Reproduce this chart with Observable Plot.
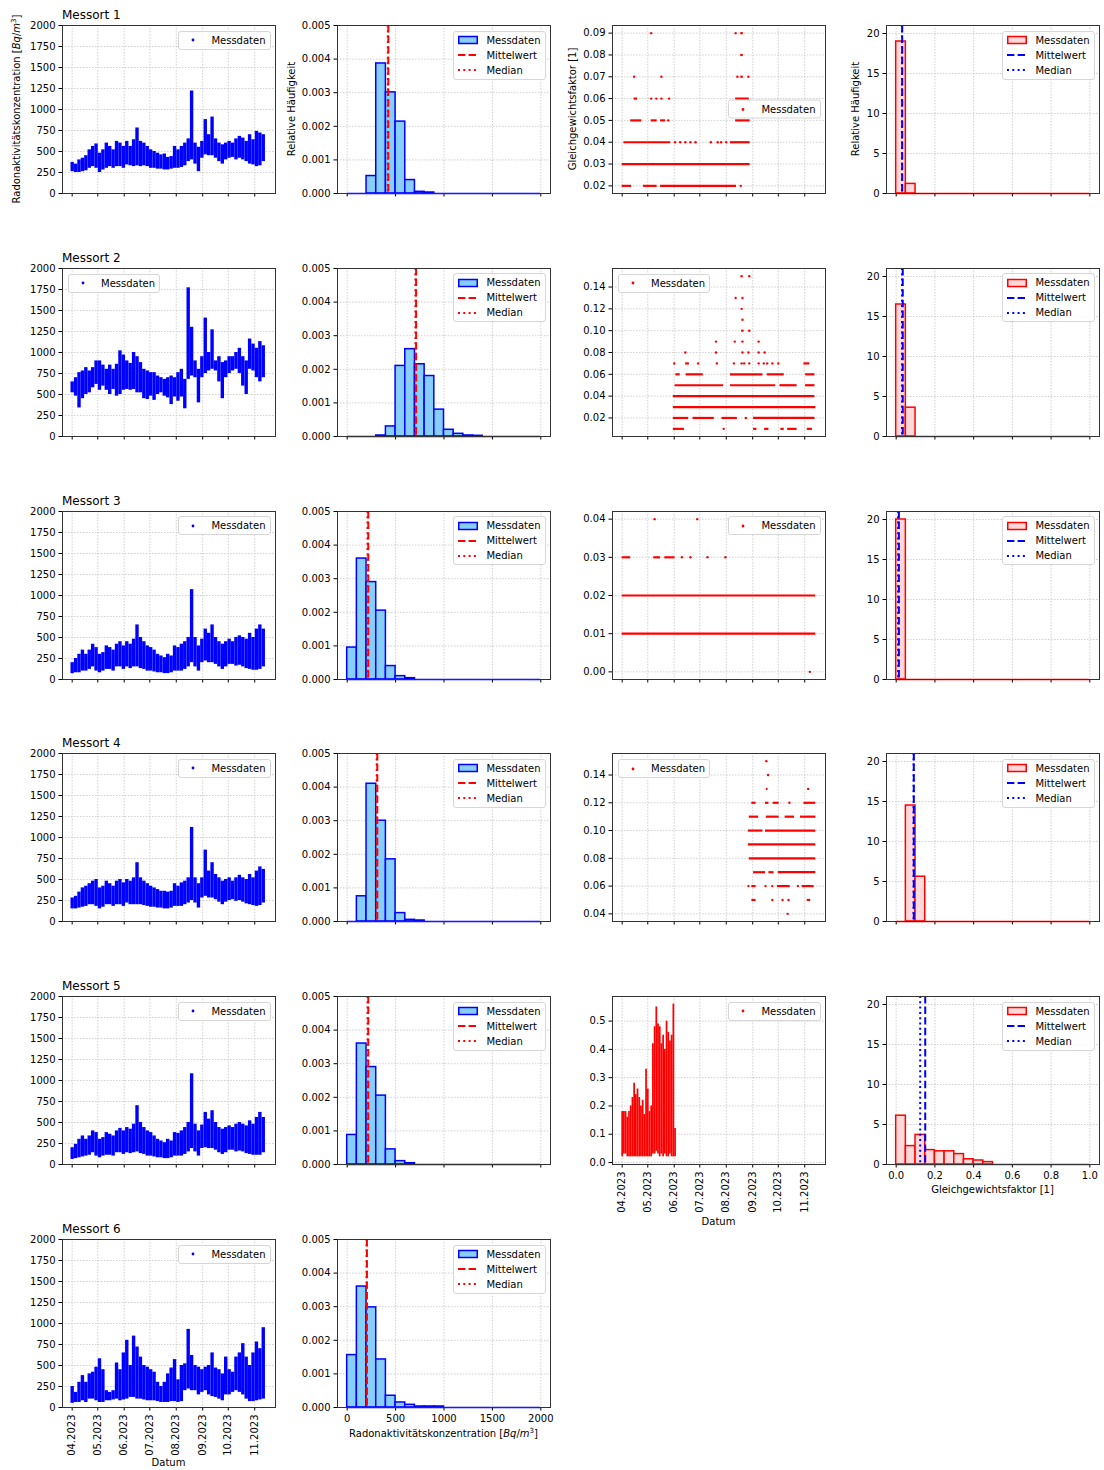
<!DOCTYPE html>
<html><head><meta charset="utf-8">
<script src="https://cdn.jsdelivr.net/npm/d3@7"></script>
<script src="https://cdn.jsdelivr.net/npm/@observablehq/plot@0.6"></script>
<style>
html,body{margin:0;padding:0;background:#fff;}
#root{position:relative;width:1104px;height:1470px;overflow:hidden;font-family:"DejaVu Sans",sans-serif;color:#000;}
.abs{position:absolute;}
.title{position:absolute;font-size:12px;line-height:14px;white-space:nowrap;}
.lab{position:absolute;font-size:10px;line-height:12px;white-space:nowrap;}
.vlab{transform:translate(-50%,-50%) rotate(-90deg);}
.hlab{transform:translate(-50%,-50%);}
.lab sup{font-size:7px;line-height:0;vertical-align:4px;}
.legend{position:absolute;background:rgba(255,255,255,0.85);border:1px solid #d6d6d6;border-radius:3px;padding:1px 4px;font-size:10px;}
.legend .row{display:flex;align-items:center;height:15px;white-space:nowrap;}
.legend svg{width:20px;height:10px;margin-right:8px;flex:none;}
</style></head><body><div id="root"></div><script>
// ---------------- data ----------------
const sampleDates = ["04-01","04-05","04-09","04-13","04-17","04-21","04-25","04-29","05-03","05-07","05-11","05-15","05-19","05-23","05-27","05-31","06-04","06-08","06-12","06-16","06-20","06-24","06-28","07-02","07-06","07-10","07-14","07-18","07-22","07-26","07-30","08-03","08-07","08-11","08-15","08-19","08-23","08-27","08-31","09-04","09-08","09-12","09-16","09-20","09-24","09-28","10-02","10-06","10-10","10-14","10-18","10-22","10-26","10-30","11-03","11-07","11-11"];
const monthTicks = ["04-01","05-01","06-01","07-01","08-01","09-01","10-01","11-01"];
const period = ["04-01","11-14"];

const m1Lo = [260,250,250,260,270,300,320,300,250,280,300,320,300,320,320,300,340,330,320,330,320,330,320,300,300,290,290,280,280,290,300,300,310,330,380,400,350,260,420,460,450,450,420,380,350,400,420,430,400,420,400,380,350,340,320,330,380];
const m1Hi = [370,350,400,420,450,520,560,590,480,520,600,560,520,620,600,560,620,560,640,780,620,600,560,520,500,480,460,470,430,440,560,520,560,600,650,1220,600,550,620,880,700,910,650,600,580,600,620,600,650,680,660,620,700,640,740,720,700];
const m2Lo = [520,480,340,450,500,520,580,620,550,600,550,500,560,480,500,550,560,550,560,520,520,450,440,480,430,500,520,480,460,380,470,420,470,330,680,720,700,400,700,750,780,800,780,650,450,700,750,780,800,750,600,500,800,780,700,650,700];
const m2Hi = [650,700,760,780,820,780,820,900,900,850,800,850,800,860,1020,970,900,870,1000,950,880,800,780,760,760,720,700,680,700,720,700,760,800,680,1770,1300,900,800,950,1410,1000,1270,900,950,880,900,950,950,1000,1050,950,900,1160,1100,1050,1130,1080];
const m3Lo = [70,80,80,100,100,120,150,100,80,100,120,120,100,150,150,120,150,130,150,150,130,120,100,100,90,80,80,70,70,80,100,100,100,120,150,200,150,100,200,220,200,200,180,150,120,150,180,180,160,170,150,130,120,110,110,120,150];
const m3Hi = [200,250,300,350,300,350,420,380,300,320,400,380,350,420,450,400,450,420,480,650,500,450,400,380,350,300,280,260,300,280,400,380,420,450,500,1070,500,400,480,600,550,650,500,450,420,450,480,450,500,520,500,480,550,500,600,650,600];
const m4Lo = [150,150,160,170,180,200,200,180,150,170,200,200,180,200,200,180,220,200,200,200,200,190,180,170,170,160,160,150,150,160,180,180,180,200,220,250,220,160,280,300,280,280,260,230,200,230,250,260,240,250,230,210,200,190,180,190,220];
const m4Hi = [280,300,350,400,420,450,480,500,400,420,480,450,420,480,500,460,500,480,520,700,520,480,450,420,400,380,360,360,350,360,450,420,460,480,520,1120,520,450,520,850,600,700,560,520,480,500,520,480,520,550,520,500,560,520,600,650,620];
const m5Lo = [60,70,80,90,100,110,140,100,80,100,110,110,100,140,140,120,140,130,140,150,130,120,100,100,90,80,80,70,70,80,100,100,100,120,150,190,150,100,190,200,190,190,170,140,120,140,170,170,150,160,150,130,120,110,110,110,140];
const m5Hi = [200,240,300,340,300,340,400,380,300,320,380,360,340,400,430,400,440,420,480,700,500,440,400,380,340,300,280,260,300,280,380,370,400,440,500,1080,480,400,470,620,540,640,500,440,420,440,460,440,480,500,480,460,520,480,560,620,560];
const m6Lo = [50,60,60,80,60,100,100,80,60,60,80,80,90,100,80,90,100,120,120,100,100,90,80,80,80,70,60,60,60,70,70,60,70,200,220,200,200,150,180,200,150,130,120,100,80,150,150,180,200,180,150,100,70,70,80,90,100];
const m6Hi = [250,180,300,380,300,400,420,480,580,450,200,180,200,530,450,650,800,500,850,720,600,500,480,450,420,300,250,300,400,470,570,330,500,520,930,620,500,480,450,480,500,650,470,450,400,600,450,420,600,650,760,600,500,650,780,700,950];

const raBinEdges = [0,100,200,300,400,500,600,700,800,900,1000,1100,1200,1300,1400,1500,1600,1700,1800,1900,2000];
const raHist1 = [0,0,0.00052,0.00387,0.00301,0.00214,0.0004,0.00005,0.00003,0,0,0,0,0,0,0,0,0,0,0];
const raHist2 = [0,0,0,0.00003,0.0003,0.0021,0.0026,0.00215,0.0018,0.0008,0.0002,0.00008,0.00003,0.00002,0,0,0,0,0,0];
const raHist3 = [0.00095,0.0036,0.0029,0.00205,0.0004,0.0001,0.00004,0,0,0,0,0,0,0,0,0,0,0,0,0];
const raHist4 = [0,0.00075,0.0041,0.003,0.00185,0.00025,0.00005,0.00003,0,0,0,0,0,0,0,0,0,0,0,0];
const raHist5 = [0.00088,0.0036,0.0029,0.00205,0.00045,0.0001,0.00004,0,0,0,0,0,0,0,0,0,0,0,0,0];
const raHist6 = [0.00156,0.0036,0.00298,0.00143,0.00035,0.00015,0.00008,0.00003,0.00003,0.00003,0,0,0,0,0,0,0,0,0,0];
const raMean = [425,712,218,311,218,204];
const raMedian = [420,705,210,305,210,200];

const gf1Runs = [[0.02,"04-01","04-12"],[0.02,"04-26","05-12"],[0.02,"05-16","08-13"],[0.03,"04-01","08-29"],[0.04,"04-03","05-28"],[0.04,"08-06","08-29"],[0.05,"04-11","04-24"],[0.05,"05-05","05-12"],[0.05,"05-16","05-22"],[0.05,"08-12","08-29"],[0.06,"04-15","04-19"],[0.06,"08-12","08-28"],[0.07,"08-18","08-21"],[0.08,"08-18","08-21"],[0.09,"08-18","08-21"]];
const gf1Points = [[0.02,"08-18"],[0.04,"06-02"],[0.04,"06-08"],[0.04,"06-14"],[0.04,"06-20"],[0.04,"06-26"],[0.04,"07-14"],[0.04,"07-22"],[0.04,"07-26"],[0.04,"08-01"],[0.05,"05-25"],[0.06,"05-05"],[0.06,"05-11"],[0.06,"05-17"],[0.06,"05-26"],[0.07,"04-15"],[0.07,"05-17"],[0.07,"08-14"],[0.07,"08-27"],[0.09,"05-05"],[0.09,"08-12"]];
const gf2Runs = [[0.01,"05-31","06-13"],[0.01,"09-02","09-06"],[0.01,"09-15","09-20"],[0.01,"10-04","10-08"],[0.01,"10-12","10-23"],[0.01,"11-04","11-10"],[0.02,"05-31","06-18"],[0.02,"06-23","07-18"],[0.02,"07-27","08-14"],[0.02,"09-02","11-13"],[0.03,"05-31","11-14"],[0.04,"05-31","11-13"],[0.05,"06-02","07-29"],[0.05,"08-06","09-28"],[0.05,"10-03","10-23"],[0.05,"11-02","11-13"],[0.06,"06-03","06-08"],[0.06,"06-15","07-05"],[0.06,"08-06","09-13"],[0.06,"09-18","10-08"],[0.06,"11-02","11-13"],[0.07,"10-31","11-07"],[0.10,"08-19","08-22"]];
const gf2Points = [[0.01,"07-29"],[0.02,"08-24"],[0.07,"06-01"],[0.07,"06-15"],[0.07,"06-17"],[0.07,"06-29"],[0.07,"07-21"],[0.07,"08-10"],[0.07,"08-19"],[0.07,"08-22"],[0.07,"08-28"],[0.07,"09-08"],[0.07,"09-14"],[0.07,"09-18"],[0.07,"09-24"],[0.07,"10-01"],[0.08,"06-14"],[0.08,"07-20"],[0.08,"08-20"],[0.08,"08-27"],[0.08,"09-08"],[0.08,"09-15"],[0.09,"07-20"],[0.09,"08-11"],[0.09,"08-20"],[0.09,"09-08"],[0.10,"08-28"],[0.11,"08-20"],[0.12,"08-19"],[0.13,"08-12"],[0.13,"08-20"],[0.15,"08-19"],[0.15,"08-28"]];
const gf3Runs = [[0.01,"04-01","11-14"],[0.02,"04-01","11-14"],[0.03,"04-01","04-11"],[0.03,"05-08","05-16"],[0.03,"05-21","06-02"]];
const gf3Points = [[0.03,"06-10"],[0.03,"06-20"],[0.03,"07-10"],[0.03,"07-31"],[0.04,"05-09"],[0.04,"06-28"],[0.00,"11-07"]];
const gf4Runs = [[0.05,"08-31","09-05"],[0.05,"11-04","11-08"],[0.06,"08-31","09-05"],[0.06,"09-30","10-15"],[0.06,"10-29","11-12"],[0.07,"09-02","09-16"],[0.07,"09-20","09-26"],[0.07,"10-01","11-14"],[0.08,"08-28","11-14"],[0.09,"08-27","11-14"],[0.10,"08-27","09-13"],[0.10,"09-16","11-14"],[0.11,"08-28","09-08"],[0.11,"09-17","10-02"],[0.11,"10-09","10-20"],[0.11,"10-27","11-14"],[0.12,"08-31","09-05"],[0.12,"09-16","09-20"],[0.12,"09-25","10-02"],[0.12,"10-31","11-14"],[0.13,"09-17","09-19"]];
const gf4Points = [[0.04,"10-12"],[0.05,"09-24"],[0.05,"10-06"],[0.05,"10-13"],[0.06,"08-27"],[0.06,"09-16"],[0.06,"09-24"],[0.06,"10-24"],[0.12,"10-14"],[0.13,"11-05"],[0.14,"09-19"],[0.15,"09-17"]];
const gf5Dates = ["04-01","04-03","04-05","04-07","04-09","04-11","04-13","04-15","04-17","04-19","04-21","04-23","04-25","04-27","04-29","05-01","05-03","05-05","05-07","05-09","05-11","05-13","05-15","05-17","05-19","05-21","05-23","05-25","05-27","05-29","05-31","06-02"];
const gf5Lo = [0.02,0.03,0.03,0.02,0.02,0.02,0.02,0.02,0.02,0.02,0.02,0.02,0.02,0.02,0.02,0.02,0.02,0.02,0.03,0.03,0.04,0.03,0.02,0.03,0.02,0.03,0.02,0.02,0.03,0.02,0.02,0.02];
const gf5Hi = [0.18,0.18,0.18,0.16,0.18,0.20,0.23,0.28,0.24,0.26,0.23,0.20,0.22,0.17,0.33,0.26,0.18,0.20,0.42,0.48,0.55,0.49,0.48,0.42,0.45,0.40,0.50,0.46,0.43,0.45,0.56,0.12];

const gfBinEdges = [0,0.05,0.1,0.15,0.2,0.25,0.3,0.35,0.4,0.45,0.5,0.55,0.6,0.65,0.7,0.75,0.8,0.85,0.9,0.95,1.0];
const gfHist1 = [19.0,1.2,0,0,0,0,0,0,0,0,0,0,0,0,0,0,0,0,0,0];
const gfHist2 = [16.5,3.6,0,0,0,0,0,0,0,0,0,0,0,0,0,0,0,0,0,0];
const gfHist3 = [20.0,0,0,0,0,0,0,0,0,0,0,0,0,0,0,0,0,0,0,0];
const gfHist4 = [0,14.5,5.6,0,0,0,0,0,0,0,0,0,0,0,0,0,0,0,0,0];
const gfHist5 = [6.1,2.3,3.7,1.8,1.65,1.65,1.3,0.65,0.5,0.3,0,0,0,0,0,0,0,0,0,0];
const gfMean = [0.031,0.034,0.014,0.091,0.150];
const gfMedian = [0.03,0.03,0.01,0.09,0.124];

const raTicksY = [0,250,500,750,1000,1250,1500,1750,2000];
const histTicksY = [0,0.001,0.002,0.003,0.004,0.005];
const raTicksX = [0,500,1000,1500,2000];
const gfTicksY = [[0.02,0.03,0.04,0.05,0.06,0.07,0.08,0.09],[0.02,0.04,0.06,0.08,0.10,0.12,0.14],[0.00,0.01,0.02,0.03,0.04],[0.04,0.06,0.08,0.10,0.12,0.14],[0.0,0.1,0.2,0.3,0.4,0.5]];
const gfHistTicksY = [0,5,10,15,20];
const gfTicksX = [0,0.2,0.4,0.6,0.8,1.0];

// ---------------- layout ----------------
const parse = s => new Date(`2023-${s}T00:00:00Z`);
const COL_LEFT = [62, 337, 612, 886];
const ROW_TOP = [25, 267.8, 510.6, 753.4, 996.2, 1239];
const FW = 213, FH = 168;
const root = document.getElementById("root");
const BLUE = "#0000ff", RED = "#ff0000", SKY = "#87cefa", PINK = "#ffd9d9";
const pad = ([a, b], f = 0.05) => [a - (b - a) * f, b + (b - a) * f];
const t0 = parse(period[0]), t1 = parse(period[1]);
const timeDomain = [new Date(+t0 - (t1 - t0) * 0.05), new Date(+t1 + (t1 - t0) * 0.05)];
const gridStyle = {stroke: "#c4c4c4", strokeOpacity: 1, strokeDasharray: "1.5,1.5", strokeWidth: 0.8};

function panel(col, row, {x, y, marks, xTicks, xFormat, showX, rotateX, yTicks, yFormat}) {
  const ML = 48, MR = 4, MT = 6, MB = showX ? 70 : 12;
  const chart = Plot.plot({
    width: ML + FW + MR, height: MT + FH + MB,
    marginLeft: ML, marginRight: MR, marginTop: MT, marginBottom: MB,
    style: {fontFamily: '"DejaVu Sans", sans-serif', fontSize: "10px", background: "transparent", color: "#000", overflow: "visible", maxWidth: "none"},
    x, y,
    marks: [
      Plot.gridX(xTicks, gridStyle),
      Plot.gridY(yTicks, gridStyle),
      ...marks,
      Plot.axisX(xTicks, {tickSize: 3.5, tickPadding: 3.5, label: null, tickFormat: showX ? xFormat : () => "", tickRotate: showX && rotateX ? -90 : 0}),
      Plot.axisY(yTicks, {tickSize: 3.5, tickPadding: 3.5, label: null, tickFormat: yFormat}),
      Plot.frame({stroke: "#333", strokeWidth: 1})
    ]
  });
  const d = document.createElement("div");
  d.className = "abs";
  d.style.left = (COL_LEFT[col] - ML) + "px";
  d.style.top = (ROW_TOP[row] - MT) + "px";
  d.appendChild(chart);
  root.appendChild(d);
}

function swatch(it) {
  if (it.type === "dot") return `<svg viewBox="0 0 20 10"><circle cx="10" cy="5" r="1.4" fill="${it.color}"/></svg>`;
  if (it.type === "patch") return `<svg viewBox="0 0 20 10"><rect x="0.75" y="1.5" width="18.5" height="7" fill="${it.fill}" stroke="${it.color}" stroke-width="1.5"/></svg>`;
  const dash = it.type === "dash" ? "7.4,3.2" : "2,3.3";
  return `<svg viewBox="0 0 20 10"><line x1="0" x2="20" y1="5" y2="5" stroke="${it.color}" stroke-width="2" stroke-dasharray="${dash}"/></svg>`;
}
function legend(col, row, pos, items) {
  const div = document.createElement("div");
  div.className = "legend";
  div.innerHTML = items.map(it => `<div class="row">${swatch(it)}<span>${it.label}</span></div>`).join("");
  const fl = COL_LEFT[col], ft = ROW_TOP[row];
  if (pos === "ul") { div.style.left = (fl + 6) + "px"; div.style.top = (ft + 6) + "px"; }
  else { div.style.right = (1104 - (fl + FW - 4.5)) + "px"; }
  if (pos === "ur") div.style.top = (ft + 5.5) + "px";
  if (pos === "cr") { div.style.top = (ft + FH / 2) + "px"; div.style.transform = "translateY(-50%)"; }
  root.appendChild(div);
}
function label(html, cx, cy, vertical) {
  const d = document.createElement("div");
  d.className = "lab " + (vertical ? "vlab" : "hlab");
  d.style.left = cx + "px"; d.style.top = cy + "px";
  d.innerHTML = html;
  root.appendChild(d);
}
function title(text, col, row) {
  const t = document.createElement("div");
  t.className = "title"; t.textContent = text;
  t.style.left = COL_LEFT[col] + "px"; t.style.top = (ROW_TOP[row] - 17) + "px";
  root.appendChild(t);
}

const series = [[m1Lo, m1Hi], [m2Lo, m2Hi], [m3Lo, m3Hi], [m4Lo, m4Hi], [m5Lo, m5Hi], [m6Lo, m6Hi]];
const raHists = [raHist1, raHist2, raHist3, raHist4, raHist5, raHist6];
const gfRuns = [gf1Runs, gf2Runs, gf3Runs, gf4Runs];
const gfPoints = [gf1Points, gf2Points, gf3Points, gf4Points];
const gfHists = [gfHist1, gfHist2, gfHist3, gfHist4, gfHist5];
const monthDates = monthTicks.map(parse);
const monthFmt = d3.utcFormat("%m.%Y");

function histRows(edges, vals) {
  return vals.map((v, i) => ({x1: edges[i], x2: edges[i + 1], v})).filter(d => d.v > 0);
}
function histMarks(edges, vals, fill, stroke, mean, median, lineColor) {
  return [
    Plot.rect(histRows(edges, vals), {x1: "x1", x2: "x2", y1: () => 0, y2: "v", fill, stroke, strokeWidth: 1.5}),
    Plot.ruleY([0], {x1: () => edges[0], x2: () => edges[edges.length - 1], stroke, strokeWidth: 1.5}),
    Plot.ruleX([median], {stroke: lineColor, strokeWidth: 2, strokeDasharray: "2,3.3"}),
    Plot.ruleX([mean], {stroke: lineColor, strokeWidth: 2, strokeDasharray: "7.4,3.2"})
  ];
}

// column 1: time series, column 2: histograms
for (let r = 0; r < 6; r++) {
  const [lo, hi] = series[r];
  const rows = sampleDates.map((s, i) => ({date: parse(s), lo: lo[i], hi: hi[i]}));
  const last = r === 5;
  panel(0, r, {
    x: {type: "utc", domain: timeDomain}, y: {domain: [0, 2000]},
    marks: [Plot.ruleX(rows, {x: "date", y1: "lo", y2: "hi", stroke: BLUE, strokeWidth: 3.4})],
    xTicks: monthDates, xFormat: monthFmt, showX: last, rotateX: true,
    yTicks: raTicksY, yFormat: d3.format("d")
  });
  legend(0, r, r === 1 ? "ul" : "ur", [{type: "dot", color: BLUE, label: "Messdaten"}]);
  title(`Messort ${r + 1}`, 0, r);

  panel(1, r, {
    x: {domain: pad([raBinEdges[0], raBinEdges[raBinEdges.length - 1]])}, y: {domain: [0, 0.005]},
    marks: histMarks(raBinEdges, raHists[r], SKY, BLUE, raMean[r], raMedian[r], RED),
    xTicks: raTicksX, xFormat: d3.format("d"), showX: last, rotateX: false,
    yTicks: histTicksY, yFormat: d3.format(".3f")
  });
  legend(1, r, "ur", [
    {type: "patch", color: BLUE, fill: SKY, label: "Messdaten"},
    {type: "dash", color: RED, label: "Mittelwert"},
    {type: "dotted", color: RED, label: "Median"}
  ]);
}

// column 3: equilibrium factor over time, column 4: its histogram
const gfMaxDensity = d3.max(gfHists.flat());
const gfLegendPos = ["cr", "ul", "ur", "ul", "ur"];
for (let r = 0; r < 5; r++) {
  let marks, yDom;
  if (r < 4) {
    const runs = gfRuns[r], pts = gfPoints[r];
    const levels = runs.map(d => d[0]).concat(pts.map(d => d[0]));
    yDom = pad(d3.extent(levels));
    marks = [
      Plot.ruleY(runs, {y: d => d[0], x1: d => parse(d[1]), x2: d => parse(d[2]), stroke: RED, strokeWidth: 2.2}),
      Plot.dot(pts, {x: d => parse(d[1]), y: d => d[0], r: 1.2, fill: RED, stroke: null})
    ];
  } else {
    const rows = gf5Dates.map((s, i) => ({date: parse(s), lo: gf5Lo[i], hi: gf5Hi[i]}));
    yDom = pad([d3.min(gf5Lo), d3.max(gf5Hi)]);
    marks = [Plot.ruleX(rows, {x: "date", y1: "lo", y2: "hi", stroke: RED, strokeWidth: 1.75})];
  }
  const last = r === 4;
  panel(2, r, {
    x: {type: "utc", domain: timeDomain}, y: {domain: yDom},
    marks, xTicks: monthDates, xFormat: monthFmt, showX: last, rotateX: true,
    yTicks: gfTicksY[r], yFormat: d3.format(r === 4 ? ".1f" : ".2f")
  });
  legend(2, r, gfLegendPos[r], [{type: "dot", color: RED, label: "Messdaten"}]);

  panel(3, r, {
    x: {domain: pad([gfBinEdges[0], gfBinEdges[gfBinEdges.length - 1]])}, y: {domain: [0, gfMaxDensity * 1.05]},
    marks: histMarks(gfBinEdges, gfHists[r], PINK, RED, gfMean[r], gfMedian[r], BLUE),
    xTicks: gfTicksX, xFormat: d3.format(".1f"), showX: last, rotateX: false,
    yTicks: gfHistTicksY, yFormat: d3.format("d")
  });
  legend(3, r, "ur", [
    {type: "patch", color: RED, fill: PINK, label: "Messdaten"},
    {type: "dash", color: BLUE, label: "Mittelwert"},
    {type: "dotted", color: BLUE, label: "Median"}
  ]);
}

// axis titles
const midY = ROW_TOP[0] + FH / 2;
label('Radonaktivitätskonzentration [<i>Bq</i>/<i>m</i><sup>3</sup>]', 16.5, midY, true);
label('Relative Häufigkeit', 291.5, midY, true);
label('Gleichgewichtsfaktor [1]', 572.5, midY, true);
label('Relative Häufigkeit', 856, midY, true);
label('Datum', COL_LEFT[0] + FW / 2, 1463, false);
label('Radonaktivitätskonzentration [<i>Bq</i>/<i>m</i><sup>3</sup>]', COL_LEFT[1] + FW / 2, 1434, false);
label('Datum', COL_LEFT[2] + FW / 2, 1221.5, false);
label('Gleichgewichtsfaktor [1]', COL_LEFT[3] + FW / 2, 1189.5, false);
</script></body></html>
